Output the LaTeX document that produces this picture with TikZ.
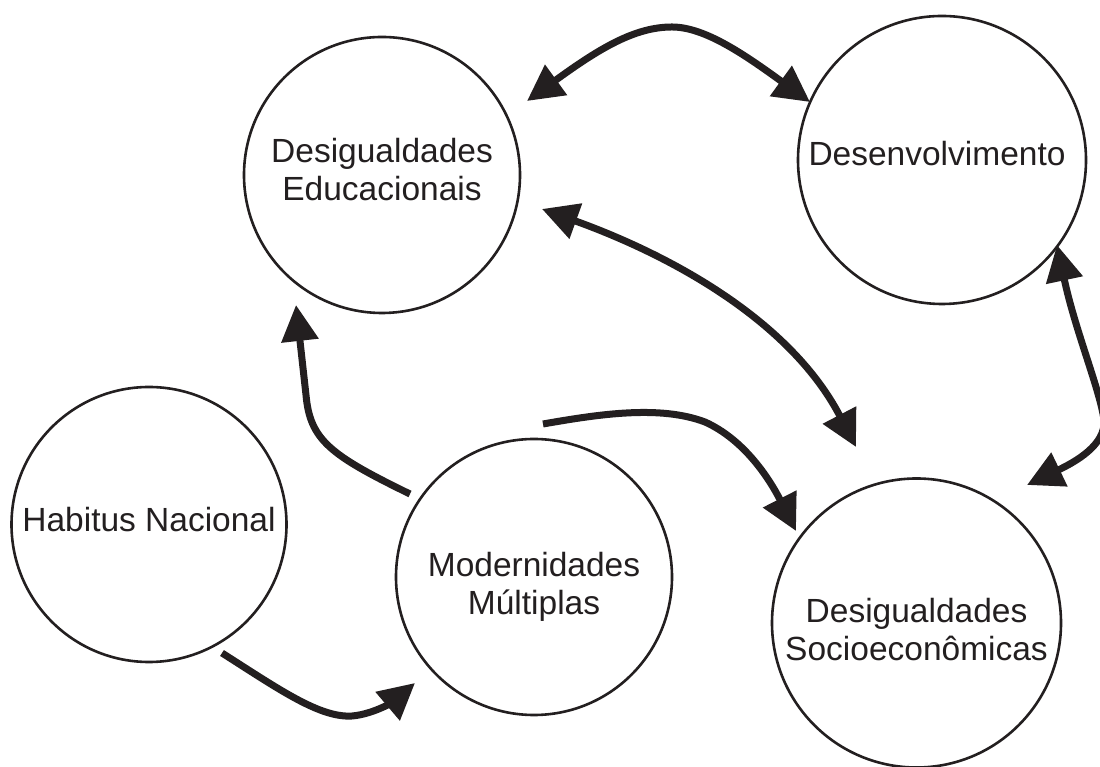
\documentclass[tikz,border=0pt]{standalone}
\usepackage{fontspec}
\setmainfont{Liberation Sans}
\usetikzlibrary{arrows.meta,calc}
\definecolor{ink}{HTML}{231F20}
\begin{document}
\begin{tikzpicture}[x=1pt,y=1pt,
  bubble/.style={circle,draw=ink,line width=2.6pt,inner sep=0pt,align=center,text=ink,
    font=\fontsize{33.5}{38}\selectfont},
  link/.style={draw=ink,line width=7pt,-{Triangle[length=36pt,width=36pt]}},
  linkboth/.style={draw=ink,line width=7pt,{Triangle[length=36pt,width=36pt]}-{Triangle[length=36pt,width=36pt]}}]
\useasboundingbox (0,0) rectangle (1100,767);
\fill[white] (0,0) rectangle (1100,767);
% circles
\node[bubble,minimum size=276pt] (de) at (382,592) {Desigualdades\\Educacionais\rule[-12pt]{0pt}{12pt}};
\node[bubble,minimum size=288pt] (dv) at (942,607) {Desenvolvimento\rule[-14pt]{10pt}{0pt}};
\node[bubble,minimum size=275pt] (hn) at (149,242.5) {Habitus Nacional\rule[-10pt]{0pt}{10pt}};
\node[bubble,minimum size=276pt] (mm) at (534,190) {\rule{0pt}{44.5pt}Modernidades\\Múltiplas};
\node[bubble,minimum size=289pt] (ds) at (916.5,144) {\rule{0pt}{36.5pt}Desigualdades\\Socioeconômicas};
% connector end points
\coordinate (A1) at ($(de.center)+(145,74)$);
\coordinate (A2) at ($(dv.center)+(-132,58)$);
\coordinate (B1) at ($(de.center)+(160,-34)$);
\coordinate (B2) at ($(ds.center)+(-60.5,176)$);
\coordinate (C1) at ($(dv.center)+(115,-85)$);
\coordinate (C2) at ($(ds.center)+(110.5,138)$);
\coordinate (D1) at ($(mm.center)+(-124,83)$);
\coordinate (D2) at ($(de.center)+(-86,-130)$);
\coordinate (E1) at ($(mm.center)+(9,153)$);
\coordinate (E2) at ($(ds.center)+(-120.5,92)$);
\coordinate (F1) at ($(hn.center)+(73,-128.5)$);
\coordinate (F2) at ($(mm.center)+(-119,-106)$);
% connectors
\draw[linkboth] (A1) .. controls (600,719) and (635,740) .. (672,740) .. controls (705,740) and (745,712) .. (A2);
\draw[linkboth] (B1) .. controls (670,512) and (790,447) .. (B2);
\draw[linkboth] (C1) .. controls (1075,437) and (1100,377) .. (1104,347) .. controls (1106,322) and (1075,305) .. (C2);
\draw[link] (D1) .. controls (330,312) and (310,327) .. (306,372) -- (D2);
\draw[link] (E1) .. controls (600,353) and (660,362) .. (705,345) .. controls (745,327) and (770,287) .. (E2);
\draw[link] (F1) .. controls (280,77) and (320,49) .. (352,51) .. controls (375,53) and (395,67) .. (F2);
\end{tikzpicture}
\end{document}
